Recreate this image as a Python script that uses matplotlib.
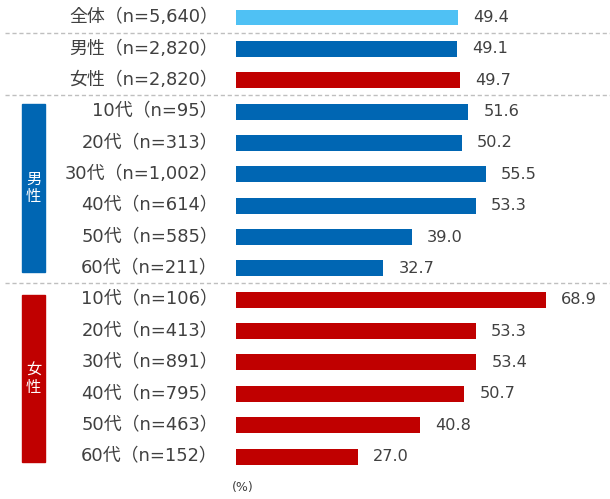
import matplotlib.pyplot as plt
from matplotlib.patches import Rectangle
import matplotlib.transforms as mtransforms

plt.rcParams['font.family'] = ['DejaVu Sans', 'Noto Sans CJK JP']

labels = ['全体（n=5,640）', '男性（n=2,820）', '女性（n=2,820）',
          '10代（n=95）', '20代（n=313）', '30代（n=1,002）', '40代（n=614）',
          '50代（n=585）', '60代（n=211）',
          '10代（n=106）', '20代（n=413）', '30代（n=891）', '40代（n=795）',
          '50代（n=463）', '60代（n=152）']
values = [49.4, 49.1, 49.7,
          51.6, 50.2, 55.5, 53.3, 39.0, 32.7,
          68.9, 53.3, 53.4, 50.7, 40.8, 27.0]
groups = ['all', 'male', 'female'] + ['male'] * 6 + ['female'] * 6

colors = {'all': '#4FC1F4', 'male': '#0066B3', 'female': '#C00000'}
txt = '#404040'

W, H = 610, 499
fig = plt.figure(figsize=(W / 100, H / 100), dpi=100)
ax = fig.add_axes([236 / W, 0, 1 - 236 / W, 1])
ax.set_xlim(0, (W - 236) / 4.5)
pitch = 31.36
ax.set_ylim((H - 17.5) / pitch, -17.5 / pitch)
ax.axis('off')

rows = list(range(len(values)))
ax.barh(rows, values, height=0.51, color=[colors[g] for g in groups])

trans = mtransforms.blended_transform_factory(fig.transFigure, ax.transData)
for i, (lab, v) in enumerate(zip(labels, values)):
    ax.text(218 / W, i, lab, transform=trans, ha='right', va='center',
            fontsize=12.9, color=txt)
    ax.text(v + 3.4, i, f'{v:.1f}', ha='left', va='center', fontsize=11.6, color=txt)

# dashed separators
for y in [0.5, 2.47, 8.48]:
    ax.plot([5 / W, 1], [y, y], transform=trans, color='#BFBFBF', lw=1,
            ls=(0, (3, 2)), clip_on=False)

# side boxes
for y0, y1, g, name in [(2.77, 8.10, 'male', '男\n性'), (8.86, 14.19, 'female', '女\n性')]:
    ax.add_patch(Rectangle((22 / W, y0), 23 / W, y1 - y0, transform=trans,
                           color=colors[g], clip_on=False))
    ax.text(33.5 / W, (y0 + y1) / 2, name, transform=trans, ha='center', va='center',
            fontsize=11, color='white', linespacing=1.25)

fig.text(243 / W, 1 - 488 / H, '(%)', ha='center', va='center', fontsize=9, color=txt)

fig.savefig('out.png', dpi=100)
